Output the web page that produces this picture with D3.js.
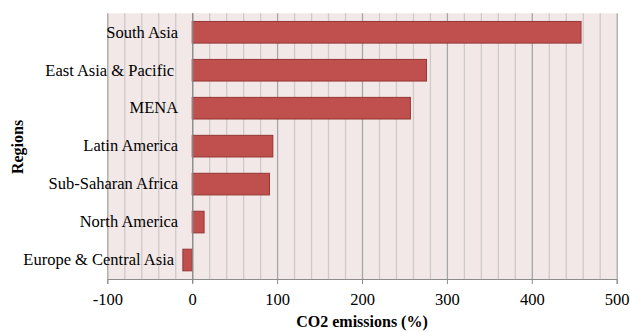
<!DOCTYPE html>
<html><head><meta charset="utf-8">
<script src="https://cdn.jsdelivr.net/npm/d3@7"></script>
<style>body{margin:0;background:#fff}svg{display:block}text{font-family:"Liberation Serif","Times New Roman",serif;white-space:pre}</style>
</head><body><svg id="c" width="630" height="332"></svg>
<script>
const categories = ["South Asia","East Asia & Pacific ","MENA","Latin America","Sub-Saharan Africa","North America","Europe & Central Asia "];
const values = [458, 276, 257, 95, 91, 14, -11];
const xTicks = [-100, 0, 100, 200, 300, 400, 500];

const svg = d3.select("#c");
const m = {l:107.3, r:13.3, t:13.3, b:53};
const W = 630, H = 332;
const FONT = '"Liberation Serif","Times New Roman",serif';
const x = d3.scaleLinear().domain([-100,500]).range([m.l, W-m.r]);
const y = d3.scaleBand().domain(categories).range([m.t, H-m.b]).paddingInner(0.43).paddingOuter(0.215);

svg.append("rect").attr("x", x(-100)).attr("y", m.t).attr("width", x(500)-x(-100)).attr("height", H-m.b-m.t).attr("fill","#f3e8e8");

const minor = d3.range(-100, 501, 20);
svg.append("g").selectAll("line").data(minor).join("line")
  .attr("x1", d=>x(d)+0.5).attr("x2", d=>x(d)+0.5)
  .attr("y1", m.t).attr("y2", H-m.b)
  .attr("stroke", d => d%100===0 ? "#a6a6a6" : "#cfcaca").attr("stroke-width", 1.3);

svg.append("g").selectAll("rect").data(values).join("rect")
  .attr("x", (d)=>x(Math.min(0,d))).attr("width", d=>Math.abs(x(d)-x(0)))
  .attr("y", (d,i)=>y(categories[i])).attr("height", y.bandwidth())
  .attr("fill","#c0504d").attr("stroke","#943634").attr("stroke-width",1);

svg.append("line").attr("x1", x(0)+0.5).attr("x2", x(0)+0.5).attr("y1", m.t).attr("y2", H-m.b+4).attr("stroke","#8c8c8c").attr("stroke-width",1.2);

const xa = svg.append("g").attr("transform",`translate(0,${H-m.b})`)
  .call(d3.axisBottom(x).tickValues(xTicks).tickSize(5).tickPadding(9).tickFormat(d=>String(d)));
xa.attr("font-family", FONT);
xa.select(".domain").attr("stroke","#8c8c8c");
xa.selectAll(".tick line").attr("stroke","#8c8c8c");
xa.selectAll("text").attr("font-size","16.5px").attr("fill","#000").style("font-family",FONT);

const ya = svg.append("g").attr("transform",`translate(${x(0)-14},0)`)
  .call(d3.axisLeft(y).tickSize(0).tickPadding(0));
ya.attr("font-family", FONT);
ya.select(".domain").remove();
ya.selectAll("text").attr("font-size","16.5px").attr("fill","#000").style("font-family",FONT).style("white-space","pre");

svg.append("text").attr("x", (x(-100)+x(500))/2).attr("y", 327).attr("text-anchor","middle")
  .attr("font-size","16px").attr("font-weight","bold").text("CO2 emissions (%)");
svg.append("text").attr("transform",`translate(23,147) rotate(-90)`).attr("text-anchor","middle")
  .attr("font-size","16px").attr("font-weight","bold").text("Regions");
</script></body></html>
